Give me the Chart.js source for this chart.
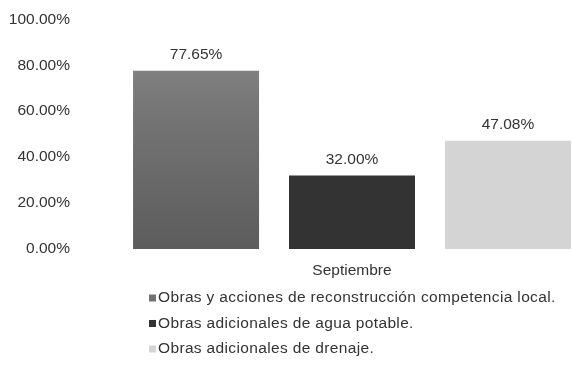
<!DOCTYPE html>
<html>
<head>
<meta charset="utf-8">
<script src="https://cdn.jsdelivr.net/npm/chart.js@4/dist/chart.umd.min.js"></script>
<style>
  html, body { margin: 0; padding: 0; background: #fff; }
  #wrap { width: 573px; height: 370px; overflow: hidden; position: relative; }
  #box { width: 624px; height: 370px; }
</style>
</head>
<body>
<div id="wrap"><div id="box"><canvas id="c"></canvas></div></div>
<script>
const categories = ['Septiembre'];
const seriesNames = [
  'Obras y acciones de reconstrucción competencia local.',
  'Obras adicionales de agua potable.',
  'Obras adicionales de drenaje.'
];
const seriesValues = [77.65, 32.00, 47.08];
const yTicks = [0, 20, 40, 60, 80, 100];
const seriesColors = ['#727272', '#333333', '#d4d4d4'];

const FONT = 'Liberation Sans, Arial, sans-serif';
const SIZE = 15.5;
const TEXT = '#333333';

const fmt = v => v.toFixed(2) + '%';

// first series shades from light grey at the top to darker grey at the base
function barFill(ctx) {
  const i = ctx.datasetIndex;
  if (i !== 0 || !ctx.chart.chartArea) return seriesColors[i];
  const { top, bottom } = ctx.chart.chartArea;
  const g = ctx.chart.ctx.createLinearGradient(0, top, 0, bottom);
  g.addColorStop(0, '#8c8c8c');
  g.addColorStop(0.45, '#737373');
  g.addColorStop(1, '#5c5c5c');
  return g;
}

// value labels above each bar
const valueLabels = {
  id: 'valueLabels',
  afterDatasetsDraw(chart) {
    const ctx = chart.ctx;
    ctx.save();
    ctx.font = SIZE + 'px ' + FONT;
    ctx.fillStyle = TEXT;
    ctx.textAlign = 'center';
    ctx.textBaseline = 'middle';
    chart.data.datasets.forEach((ds, i) => {
      chart.getDatasetMeta(i).data.forEach((bar, j) => {
        ctx.fillText(fmt(ds.data[j]), bar.x, bar.y - 16);
      });
    });
    ctx.restore();
  }
};

// stacked legend list below the axis
const listLegend = {
  id: 'listLegend',
  afterDraw(chart) {
    const ctx = chart.ctx;
    ctx.save();
    ctx.font = SIZE + 'px ' + FONT;
    ctx.letterSpacing = '0.35px';
    ctx.textBaseline = 'middle';
    ctx.textAlign = 'left';
    const x0 = 149, y0 = 298, step = 25.5;
    chart.data.datasets.forEach((ds, i) => {
      const y = y0 + i * step;
      ctx.fillStyle = seriesColors[i];
      ctx.fillRect(x0, y - 3.5, 7, 7);
      ctx.fillStyle = TEXT;
      ctx.fillText(ds.label, x0 + 9, y);
    });
    ctx.restore();
  }
};

new Chart(document.getElementById('c'), {
  type: 'bar',
  data: {
    labels: categories,
    datasets: seriesNames.map((name, i) => ({
      label: name,
      data: [seriesValues[i]],
      backgroundColor: barFill,
      borderWidth: 0,
      barPercentage: 0.808,
      categoryPercentage: 0.86
    }))
  },
  options: {
    responsive: true,
    maintainAspectRatio: false,
    animation: false,
    layout: { padding: { top: 15, bottom: 91, left: 0, right: 0 } },
    plugins: { legend: { display: false }, tooltip: { enabled: false } },
    scales: {
      x: {
        grid: { display: false, drawTicks: false },
        border: { display: false },
        ticks: { color: TEXT, font: { family: FONT, size: SIZE }, padding: 12 },
        afterFit: s => { s.height = 30; }
      },
      y: {
        min: 0, max: 100,
        grid: { display: false, drawTicks: false },
        border: { display: false },
        afterBuildTicks: s => { s.ticks = yTicks.map(v => ({ value: v })); },
        afterFit: s => { s.width = 80; },
        ticks: {
          color: TEXT, font: { family: FONT, size: SIZE }, padding: 10,
          callback: v => fmt(v)
        }
      }
    }
  },
  plugins: [valueLabels, listLegend]
});
</script>
</body>
</html>
